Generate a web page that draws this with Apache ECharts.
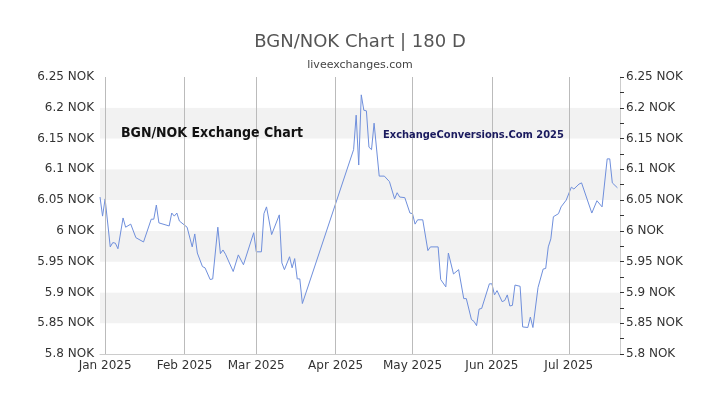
<!DOCTYPE html>
<html><head><meta charset="utf-8">
<script src="https://cdn.jsdelivr.net/npm/echarts@6/dist/echarts.min.js"></script>
<style>html,body{margin:0;padding:0;background:#fff}#c{width:720px;height:405px}</style>
</head><body><div id="c"></div>
<script>
// day offsets from 2025-01-01
const dayOffsets = [-2,-1,0,2,3,4,5,7,8,10,12,15,18,19,20,21,25,26,27,28,29,32,34,35,36,38,39,41,42,44,45,46,47,50,52,54,58,59,61,62,63,65,68,69,70,72,73,74,75,76,77,
97,98,99,100,101,102,103,104,105,107,109,111,113,114,115,117,119,120,121,122,124,126,127,130,131,133,134,136,138,140,141,143,144,145,146,147,150,151,152,153,155,156,157,158,159,160,162,163,165,166,167,169,171,172,173,174,175,177,178,180,182,183,185,186,190,192,194,196,197,198,200];
const rates = [6.055,6.024,6.052,5.974,5.981,5.980,5.971,6.021,6.006,6.011,5.989,5.982,6.019,6.019,6.042,6.013,6.008,6.029,6.024,6.029,6.016,6.006,5.974,5.995,5.964,5.942,5.940,5.921,5.922,6.006,5.963,5.969,5.962,5.934,5.961,5.945,5.997,5.966,5.966,6.028,6.039,5.994,6.026,5.948,5.937,5.958,5.940,5.955,5.922,5.922,5.882,
6.132,6.188,6.107,6.221,6.196,6.195,6.136,6.132,6.175,6.089,6.089,6.080,6.052,6.062,6.055,6.054,6.029,6.028,6.011,6.018,6.018,5.968,5.974,5.974,5.921,5.909,5.964,5.930,5.937,5.890,5.890,5.856,5.853,5.846,5.873,5.874,5.914,5.914,5.896,5.903,5.885,5.887,5.896,5.878,5.879,5.912,5.910,5.844,5.843,5.860,5.843,5.908,5.938,5.939,5.974,5.987,6.023,6.028,6.039,6.050,6.071,6.068,6.076,6.078,6.029,6.049,6.039,6.117,6.117,6.078,6.070];
const yTicks = [5.8,5.85,5.9,5.95,6,6.05,6.1,6.15,6.2,6.25];
const base = Date.UTC(2025,0,1), DAY = 86400000;
const data = dayOffsets.map((d,i)=>[base+d*DAY, rates[i]]);
const monthStarts = [0,1,2,3,4,5,6].map(m=>Date.UTC(2025,m,1));
const MON = ['Jan','Feb','Mar','Apr','May','Jun','Jul'];
const ch = echarts.init(document.getElementById('c'));
const yAx = (pos)=>({type:'value',position:pos,min:5.8,max:6.25,interval:0.05,
  axisLine:{show:pos==='right',lineStyle:{color:'#ccc'}},
  axisTick:{show:pos==='right',length:4,lineStyle:{color:'#333'}},
  minorTick:{show:pos==='right',splitNumber:2,length:4,lineStyle:{color:'#333'}},
  splitLine:{show:false},
  splitArea:{show:pos==='left',areaStyle:{color:['#ffffff','#f2f2f2']}},
  axisLabel:{color:'#333',fontSize:12,fontFamily:'DejaVu Sans',margin:6,
    formatter:v=>{const t=yTicks.find(x=>Math.abs(x-v)<1e-6);return (t===undefined?v:+t.toFixed(2))+' NOK';}}});
ch.setOption({
  animation:false,
  title:[{text:'BGN/NOK Chart | 180 D',left:'center',top:28,textStyle:{fontSize:18,fontWeight:'normal',color:'#555',fontFamily:'DejaVu Sans'}},
         {text:'liveexchanges.com',left:'center',top:55,textStyle:{fontSize:11,fontWeight:'normal',color:'#444',fontFamily:'DejaVu Sans'}},
         {text:'BGN/NOK Exchange Chart',left:116,top:121,textStyle:{fontSize:14,fontWeight:'bold',fontFamily:'DejaVu Sans Condensed',color:'#111'}},
         {text:'ExchangeConversions.Com 2025',left:378,top:125,textStyle:{fontSize:11,fontWeight:'bold',fontFamily:'DejaVu Sans Condensed',color:'#1a1a5e'}}],
  grid:{left:100,right:100,top:77,bottom:51},
  xAxis:{type:'time',min:base-2*DAY,max:base+201*DAY,
    axisLine:{lineStyle:{color:'#ccc'}},axisTick:{show:false},
    splitLine:{show:false},axisLabel:{show:false}},
  yAxis:[yAx('left'),yAx('right')],
  series:[
   {type:'line',data:data,showSymbol:false,lineStyle:{color:'#6f8fdc',width:1},
    markLine:{silent:true,symbol:'none',lineStyle:{color:'#bbb',type:'solid',width:1},
      label:{show:true,position:'start',distance:6,color:'#333',fontSize:12,fontFamily:'DejaVu Sans',
        formatter:p=>MON[new Date(p.value).getUTCMonth()]+' 2025'},
      data:monthStarts.map(t=>({xAxis:t}))}},
   {type:'line',yAxisIndex:1,data:[],silent:true}
  ]
});
</script></body></html>
